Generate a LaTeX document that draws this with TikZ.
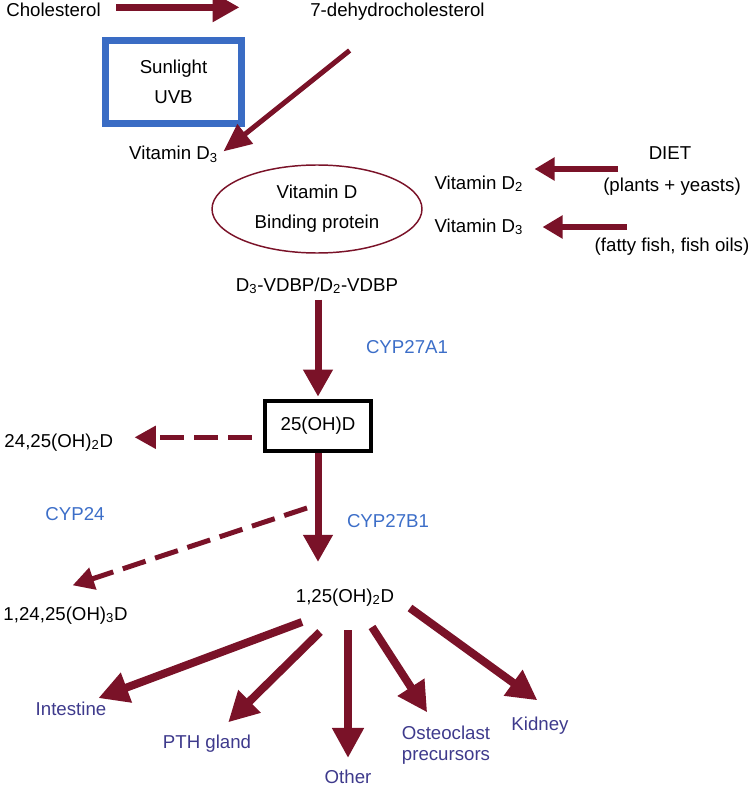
\documentclass[tikz,border=0pt]{standalone}
\usepackage{fontspec}
\setmainfont{Liberation Sans}
\usetikzlibrary{arrows.meta,shapes.geometric}

\definecolor{vitred}{RGB}{122,18,40}
\definecolor{sunblue}{RGB}{58,108,196}
\definecolor{cypblue}{RGB}{60,110,200}
\definecolor{tissueblue}{RGB}{62,58,140}

\tikzset{every picture/.style={line width=0.75pt}}
\tikzset{
  lbl/.style={inner sep=0.75pt, font=\fontsize{14}{16}\selectfont},
  enzyme/.style={lbl, text=cypblue},
  tissue/.style={lbl, text=tissueblue},
  bigarrow/.style={draw=vitred, line width=5.25pt, -{Triangle[length=20.25pt,width=21pt]}},
  slimarrow/.style={draw=vitred, line width=3.75pt, -{Triangle[length=21pt,width=18pt]}},
  dietarrow/.style={draw=vitred, line width=5pt, -{Triangle[length=15pt,width=16.5pt]}},
  fanarrow/.style={draw=vitred, line width=6pt, -{Triangle[length=22.5pt,width=22.5pt]}},
  lossarrow/.style={draw=vitred, line width=3.75pt, dash pattern=on 18pt off 7.5pt, -{Triangle[length=16pt,width=16.5pt]}},
}

\begin{document}
\begin{tikzpicture}[x=0.75pt,y=0.75pt,yscale=-1,xscale=1]
\useasboundingbox (0,0) rectangle (750,788);

% Text Node
\node[lbl, anchor=base] (chol) at (53.5,17) {Cholesterol};
% Text Node
\node[lbl, anchor=base] (dehydro) at (397.5,17) {7-dehydrocholesterol};
%Shape: Rectangle
\node[draw=sunblue, line width=5.25pt, minimum width=102pt, minimum height=62.25pt, align=center, font=\fontsize{14}{22.5}\selectfont] (uvb) at (173.5,82) {Sunlight\\UVB};
% Text Node
\node[lbl, anchor=base] (vitdskin) at (173.5,160) {Vitamin D\textsubscript{3}};
%Shape: Ellipse
\node[ellipse, draw=vitred, line width=1.1pt, minimum width=157.5pt, minimum height=66pt, inner sep=0pt, align=center, font=\fontsize{14}{22.5}\selectfont] (dbp) at (317,209) {Vitamin D\\Binding protein};

% Text Node
\node[lbl, anchor=base west] (vitdtwo) at (433,189) {Vitamin D\textsubscript{2}};
\node[lbl, anchor=base west] (vitdthree) at (433,232) {Vitamin D\textsubscript{3}};
\node[lbl, anchor=base] (diet) at (670,160) {DIET};
\node[lbl, anchor=base] (plants) at (672,191) {(plants + yeasts)};
\node[lbl, anchor=base] (fish) at (672,251) {(fatty fish, fish oils)};
\coordinate (dietsrc) at (618,169);
\coordinate (fishsrc) at (627,227);

% Text Node
\node[lbl, anchor=base] (complex) at (317,291) {D\textsubscript{3}-VDBP/D\textsubscript{2}-VDBP};
\node[enzyme, anchor=base] (cypA) at (407,353) {CYP27A1};
%Shape: Rectangle
\node[lbl, draw, line width=3.4pt, minimum width=79.5pt, minimum height=37.5pt] (ohd) at (318,426) {25(OH)D};
\node[lbl, anchor=base west] (hydroxyA) at (3,447) {24,25(OH)\textsubscript{2}D};
\node[enzyme, anchor=base] (cypC) at (75,520) {CYP24};
\node[enzyme, anchor=base] (cypB) at (388,527) {CYP27B1};
\coordinate (branch) at (307,508);
\node[lbl, anchor=base] (calcitriol) at (345,602) {1,25(OH)\textsubscript{2}D};
\node[lbl, anchor=base west] (hydroxyB) at (2,620) {1,24,25(OH)\textsubscript{3}D};

% Target tissues
\node[tissue, anchor=base] (intestine) at (71,715) {Intestine};
\node[tissue, anchor=base] (pth) at (207,748) {PTH gland};
\node[tissue, anchor=base] (other) at (348,783) {Other};
\node[tissue, anchor=north, align=center, font=\fontsize{14}{15.75}\selectfont] (osteo) at (446,724.5) {Osteoclast\\precursors};
\node[tissue, anchor=base] (kidney) at (540,730) {Kidney};
\coordinate (toIntestine) at (302,622);
\coordinate (toPth) at (320,632);
\coordinate (toOther) at (348,630);
\coordinate (toOsteo) at (372,627);
\coordinate (toKidney) at (410,608);

%Straight Lines
\draw[bigarrow, shorten <=10.5pt, shorten >=52pt] ([yshift=-2.25pt]chol.east) -- ([yshift=-2.25pt]chol.east -| dehydro.west);
\draw[slimarrow, shorten <=33.75pt, shorten >=4pt] (dehydro) -- (vitdskin.east);
\draw[dietarrow, shorten >=7.5pt] (dietsrc) -- (dietsrc -| vitdtwo.east);
\draw[dietarrow, shorten >=13.5pt] (fishsrc) -- (fishsrc -| vitdthree.east);
\draw[bigarrow, shorten <=3pt, shorten >=1.5pt] (ohd.north |- complex.south) -- (ohd.north);
\draw[lossarrow, shorten <=8.25pt, shorten >=15pt] (ohd.west |- hydroxyA.5) -- (hydroxyA.5);
\draw[bigarrow, shorten >=18.75pt] (ohd.south) -- (ohd.south |- calcitriol.north);
\draw[lossarrow, shorten >=47pt] (branch) -- (hydroxyB.169);

% Arrows to the tissues
\draw[fanarrow, shorten >=4pt] (toIntestine) -- (intestine);
\draw[fanarrow, shorten >=11.4pt] (toPth) -- (pth);
\draw[fanarrow, shorten >=7.5pt] (toOther) -- (other);
\draw[fanarrow, shorten >=10.8pt] (toOsteo) -- (osteo.118);
\draw[fanarrow, shorten >=18.75pt] (toKidney) -- (kidney.30);

\end{tikzpicture}
\end{document}
